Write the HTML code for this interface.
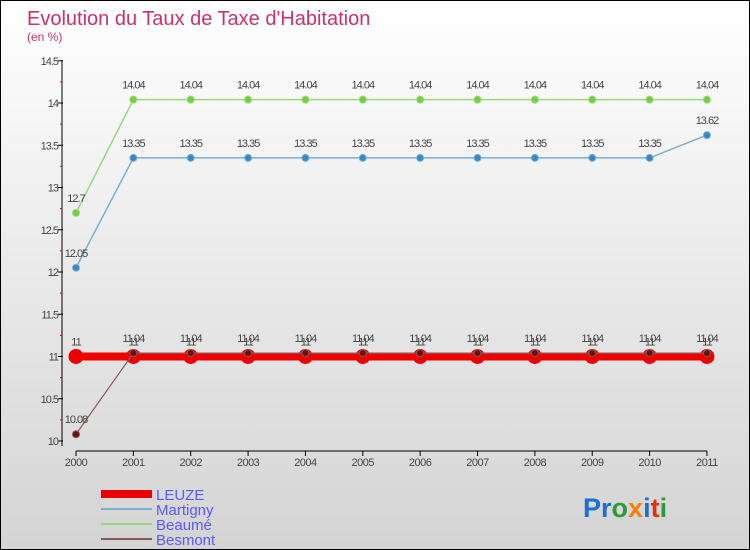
<!DOCTYPE html>
<html><head><meta charset="utf-8"><style>
body{margin:0}
#c{position:relative;width:748px;height:548px;border:1px solid #000;background:linear-gradient(#fff,#d4d4d4);font-family:"Liberation Sans",sans-serif;overflow:hidden}
</style></head><body>
<div id="c">
<svg id="s" width="748" height="548" style="position:absolute;left:0;top:0">
<text x="26" y="24" font-size="20" fill="#c8326e">Evolution du Taux de Taxe d'Habitation</text>
<text x="26" y="40" font-size="12" fill="#c8326e">(en %)</text>
<g id="g"></g>
<g>
<rect x="100" y="489" width="51" height="8" fill="#e00"/>
<text x="155" y="499" font-size="15" fill="#5a5aff">LEUZE</text>
<line x1="100" y1="508" x2="151" y2="508" stroke="#7aaed0" stroke-width="2"/>
<text x="155" y="514" font-size="15" fill="#5a5aff">Martigny</text>
<line x1="100" y1="523" x2="151" y2="523" stroke="#99d97a" stroke-width="2"/>
<text x="155" y="529" font-size="15" fill="#5a5aff">Beaumé</text>
<line x1="100" y1="538" x2="151" y2="538" stroke="#8a5a5a" stroke-width="2"/>
<text x="155" y="544" font-size="15" fill="#5a5aff">Besmont</text>
</g>
<text x="582" y="516" font-size="27" font-weight="bold"><tspan fill="#1a6fd0">Pr</tspan><tspan fill="#2a9a3a">o</tspan><tspan fill="#f57f00">x</tspan><tspan fill="#1a6fd0">i</tspan><tspan fill="#e03010">t</tspan><tspan fill="#2a9a3a">i</tspan></text>
</svg>
</div>
<script>
const years=["2000","2001","2002","2003","2004","2005","2006","2007","2008","2009","2010","2011"];
const leuze=[11,11,11,11,11,11,11,11,11,11,11,11];
const martigny=[12.05,13.35,13.35,13.35,13.35,13.35,13.35,13.35,13.35,13.35,13.35,13.62];
const beaume=[12.7,14.04,14.04,14.04,14.04,14.04,14.04,14.04,14.04,14.04,14.04,14.04];
const besmont=[10.08,11.04,11.04,11.04,11.04,11.04,11.04,11.04,11.04,11.04,11.04,11.04];
const yTicks=[10,10.5,11,11.5,12,12.5,13,13.5,14,14.5];
const X=i=>75+i*57.36, Y=v=>440-(v-10)*84.5;
const g=document.getElementById('g'),NS='http://www.w3.org/2000/svg';
function mk(t,a,n){const e=document.createElementNS(NS,t);for(const k in a)e.setAttribute(k,a[k]);


g.appendChild(e);return e;}
mk('line',{x1:61,y1:59,x2:61,y2:445,stroke:'#000'},'y-axis');
mk('line',{x1:75,y1:450,x2:706,y2:450,stroke:'#000'},'x-axis');
yTicks.forEach(v=>{mk('line',{x1:57,y1:Y(v),x2:62,y2:Y(v),stroke:'#000'},'y-tick');
const t=mk('text',{x:57,y:Y(v)+4,'text-anchor':'end','font-size':11,fill:'#444','letter-spacing':'-1'},'y-tick-label');t.textContent=v;
if(v<14.5)mk('line',{x1:59,y1:Y(v+0.25),x2:61,y2:Y(v+0.25),stroke:'#e00'},'y-minor-tick');});
years.forEach((y,i)=>{mk('line',{x1:X(i),y1:450,x2:X(i),y2:455,stroke:'#000'},'x-tick');
const t=mk('text',{x:X(i),y:465,'text-anchor':'middle','font-size':11,fill:'#444','letter-spacing':'-0.5'},'x-tick-label');t.textContent=y;});
function series(d,col,w,r,name,fill){
mk('polyline',{points:d.map((v,i)=>X(i)+','+Y(v)).join(' '),fill:'none',stroke:col,'stroke-width':w},name+'-line');
d.forEach((v,i)=>{mk('circle',{cx:X(i),cy:Y(v),r:r,fill:fill,stroke:col},name+'-point');
const t=mk('text',{x:X(i),y:Y(v)-11,'text-anchor':'middle','font-size':11,fill:'#444','letter-spacing':'-1'},name+'-value');t.textContent=v;});}
series(beaume,'#99d97a',1.5,3.5,'beaume','#77cc44');
series(martigny,'#7aaed0',1.5,3.5,'martigny','#3a86c6');
series(leuze,'#e00',8,7,'leuze','#e00');
series(besmont,'#8a5a5a',1.2,3.5,'besmont','#6a1010');
</script>
</body></html>
